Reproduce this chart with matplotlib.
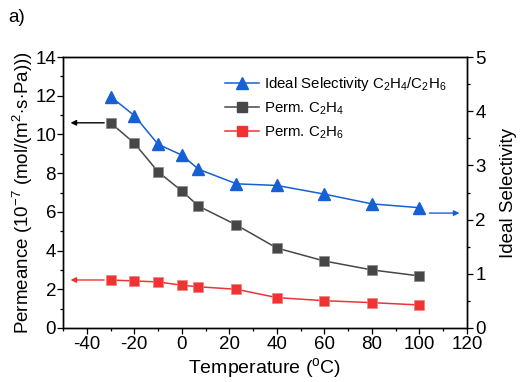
import matplotlib
matplotlib.use("Agg")
import matplotlib.pyplot as plt
from matplotlib.lines import Line2D

plt.rcParams['font.family'] = ['Liberation Sans', 'DejaVu Sans']
plt.rcParams['mathtext.fontset'] = 'custom'
plt.rcParams['mathtext.rm'] = 'Liberation Sans'
plt.rcParams['mathtext.it'] = 'Liberation Sans'
plt.rcParams['axes.unicode_minus'] = False

temperature = [-30, -20, -10, 0, 7, 23, 40, 60, 80, 100]
perm_c2h4 = [10.6, 9.55, 8.07, 7.08, 6.3, 5.32, 4.13, 3.46, 3.0, 2.69]
perm_c2h6 = [2.48, 2.43, 2.38, 2.21, 2.13, 2.0, 1.57, 1.41, 1.31, 1.19]
selectivity = [4.27, 3.92, 3.39, 3.19, 2.93, 2.66, 2.63, 2.47, 2.29, 2.22]

xticks = [-40, -20, 0, 20, 40, 60, 80, 100, 120]

blue = '#1560d4'
gray = '#474747'
red = '#ee3333'

fig = plt.figure(figsize=(5.2, 3.82), dpi=100)
ax = fig.add_axes([63/520, 1-328/382, 404/520, 271/382])
ax2 = ax.twinx()

ax.plot(temperature, perm_c2h4, '-s', color=gray, mfc=gray, mec='#888888', mew=0.5,
        ms=7.5, lw=1.1, zorder=3)
ax.plot(temperature, perm_c2h6, '-s', color=red, mfc=red, mec='#f08080', mew=0.5,
        ms=7.5, lw=1.1, zorder=3)
ax2.plot(temperature, selectivity, '-^', color=blue, mfc=blue, mec=blue,
         ms=8.5, lw=1.1, zorder=3)

ax.set_xlim(-50, 120)
ax.set_ylim(0, 14)
ax2.set_ylim(0, 5)
ax.set_xticks(xticks)
ax.set_xticks(range(-50, 121, 10), minor=True)
ax.set_yticks(range(0, 15, 2))
ax.set_yticks(range(0, 15, 1), minor=True)
ax2.set_yticks(range(0, 6))
ax2.set_yticks([i * 0.5 for i in range(11)], minor=True)

for a in (ax, ax2):
    a.tick_params(which='major', direction='out', length=4, width=0.9, labelsize=13.5, pad=2)
    a.tick_params(which='minor', direction='out', length=2.5, width=0.9)
    for s in a.spines.values():
        s.set_linewidth(1.0)
ax.tick_params(axis='y', pad=1)

ax.set_xlabel('Temperature ($\\mathregular{^{o}}$C)', fontsize=14, labelpad=2)
ax.set_ylabel('Permeance (10$\\mathregular{^{-7}}$ (mol/(m$\\mathregular{^{2}}$$\\cdot$s$\\cdot$Pa)))',
              fontsize=13.5, labelpad=0)
ax2.set_ylabel('Ideal Selectivity', fontsize=13.5, labelpad=10)

# direction arrows
ax.annotate('', xy=(-48, perm_c2h4[0]), xytext=(temperature[0] - 1.5, perm_c2h4[0]),
            arrowprops=dict(arrowstyle='-|>', color='black', lw=1.0, mutation_scale=8))
ax.annotate('', xy=(-48, perm_c2h6[0]), xytext=(temperature[0] - 1.5, perm_c2h6[0]),
            arrowprops=dict(arrowstyle='-|>', color=red, lw=1.0, mutation_scale=8))
ax2.annotate('', xy=(118, 2.12), xytext=(103, 2.12),
             arrowprops=dict(arrowstyle='-|>', color=blue, lw=1.0, mutation_scale=8))

handles = [
    Line2D([], [], color=blue, marker='^', ms=8, lw=1.1),
    Line2D([], [], color=gray, marker='s', ms=7, lw=1.1),
    Line2D([], [], color=red, marker='s', ms=7, lw=1.1),
]
labels = ['Ideal Selectivity C$_\\mathregular{2}$H$_\\mathregular{4}$/C$_\\mathregular{2}$H$_\\mathregular{6}$',
          'Perm. C$_\\mathregular{2}$H$_\\mathregular{4}$',
          'Perm. C$_\\mathregular{2}$H$_\\mathregular{6}$']
ax2.legend(handles, labels, loc='upper left', bbox_to_anchor=(0.385, 0.955), frameon=False,
           fontsize=10.8, handlelength=2.3, handletextpad=0.35, labelspacing=0.5,
           borderaxespad=0)

fig.text(8/520, 1-18/382, 'a)', fontsize=13.5, va='center', ha='left')

fig.savefig('out.png', dpi=100)
